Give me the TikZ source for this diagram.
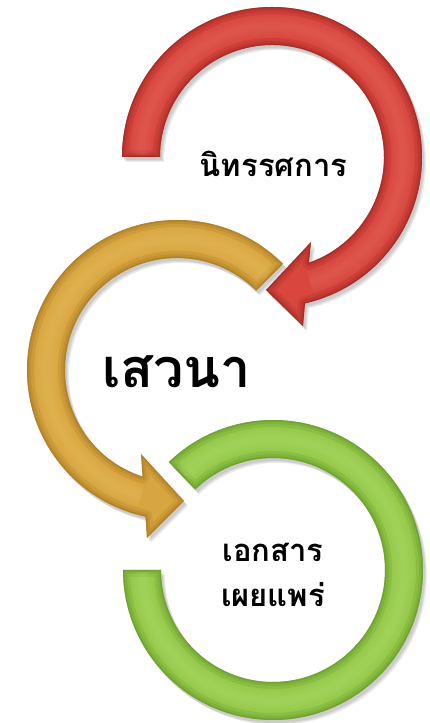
\documentclass[tikz,border=0pt]{standalone}
\usepackage{fontspec}
\newfontfamily\thaifont[Script=Thai]{Loma}
\definecolor{redbase}{RGB}{216,70,62}
\definecolor{reddark}{RGB}{150,35,30}
\definecolor{redlight}{RGB}{235,120,110}
\definecolor{orbase}{RGB}{216,166,64}
\definecolor{ordark}{RGB}{160,112,30}
\definecolor{orlight}{RGB}{240,200,110}
\definecolor{grbase}{RGB}{148,201,74}
\definecolor{grdark}{RGB}{95,145,35}
\definecolor{grlight}{RGB}{190,228,125}
\tikzset{
  lbl/.style={anchor=base, inner sep=0pt, text=black},
  shadowfill/.style={fill=black, opacity=0.07},
  glow/.style={line width=#1, opacity=0.09},
}
\def\redpath{([shift={(272,566)}]180:150) arc[start angle=180, end angle=-77.3, radius=150]
  -- (303,397) -- (266,433) -- (311,481)
  -- ([shift={(272,566)}]-70.8:112) arc[start angle=-70.8, end angle=180, radius=112] -- cycle}
\def\orpath{([shift={(177,353)}]45:150) arc[start angle=45, end angle=257.9, radius=150]
  -- (147,185) -- (184,222) -- (141,269)
  -- ([shift={(177,353)}]252.1:112) arc[start angle=252.1, end angle=45, radius=112] -- cycle}
\def\grpath{([shift={(273,153)}]134:150) arc[start angle=134, end angle=-180, radius=150]
  -- ([shift={(273,153)}]180:112) arc[start angle=-180, end angle=134, radius=112] -- cycle}
\newcommand{\bevelshape}[4]{%
  % #1 path, #2 base, #3 dark, #4 light
  \foreach \dx/\dy in {2/-3,3/-4,4/-5}{
    \fill[shadowfill, shift={(\dx,\dy)}] #1;
  }
  \fill[#2] #1;
  \begin{scope}
    \clip #1;
    \draw[#3, line width=14, opacity=0.18, line join=round] #1;
    \draw[#3, line width=8, opacity=0.25, line join=round] #1;
    \draw[#3, line width=3, opacity=0.45, line join=round] #1;
  \end{scope}
}
\newcommand{\highlight}[5]{%
  % #1 colour, #2 centre, #3 start, #4 end, #5 radius
  \foreach \w in {22,17,12,7}{
    \draw[#1, glow=\w] ([shift={#2}]#3:#5) arc[start angle=#3, end angle=#4, radius=#5];
  }
}
\begin{document}
\begin{tikzpicture}[x=1pt,y=1pt]
\useasboundingbox (0,0) rectangle (429,723);
\fill[white] (0,0) rectangle (429,723);
% green (bottom)
\bevelshape{\grpath}{grbase}{grdark}{grlight}
\highlight{grlight}{(273,153)}{133}{-179}{131}
% orange (middle)
\bevelshape{\orpath}{orbase}{ordark}{orlight}
\highlight{orlight}{(177,353)}{46}{254}{131}
% red (top)
\bevelshape{\redpath}{redbase}{reddark}{redlight}
\highlight{redlight}{(272,566)}{179}{-73}{131}
% labels
\node[lbl, font=\thaifont\bfseries\fontsize{31}{36}\selectfont] (t1) at (273.5,546) {นิทรรศการ};
\node[lbl, font=\thaifont\bfseries\fontsize{54}{60}\selectfont] (t2) at (176.5,335) {เสวนา};
\node[lbl, font=\thaifont\bfseries\fontsize{31}{36}\selectfont] (t3) at (273,161) {เอกสาร};
\node[lbl, font=\thaifont\bfseries\fontsize{31}{36}\selectfont] (t4) at (273,116) {เผยแพร่};
\end{tikzpicture}
\end{document}
